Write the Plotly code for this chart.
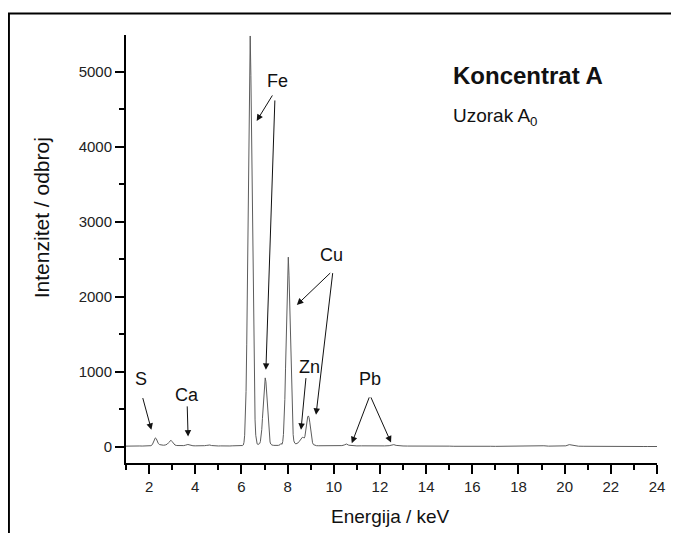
import plotly.graph_objects as go

# ---- data ----
energy_kev = [
    1.00, 1.10, 1.20, 1.30, 1.40, 1.50, 1.60, 1.70, 1.80, 1.90, 2.00, 2.08, 2.14, 2.19, 2.23, 2.27,
    2.31, 2.35, 2.40, 2.46, 2.54, 2.62, 2.70, 2.78, 2.84, 2.90, 2.95, 3.00, 3.05, 3.12, 3.20, 3.30,
    3.40, 3.50, 3.57, 3.63, 3.68, 3.73, 3.80, 3.90, 4.00, 4.10, 4.20, 4.30, 4.40, 4.50, 4.57, 4.63,
    4.70, 4.80, 4.90, 5.00, 5.10, 5.20, 5.30, 5.40, 5.50, 5.60, 5.70, 5.80, 5.90, 6.00, 6.05,
    6.08, 6.11, 6.14, 6.17, 6.20, 6.23, 6.26, 6.29, 6.32, 6.35, 6.38, 6.41, 6.44, 6.47, 6.50, 6.53,
    6.56, 6.59, 6.62, 6.65, 6.68, 6.72, 6.76,
    6.79, 6.82, 6.85, 6.88, 6.91, 6.94, 6.97, 7.00, 7.03, 7.06, 7.09, 7.12, 7.15, 7.18, 7.21, 7.24,
    7.27, 7.32, 7.40, 7.50, 7.60, 7.67, 7.71,
    7.76, 7.79, 7.82, 7.85, 7.88, 7.91, 7.94, 7.97, 8.00, 8.03, 8.06, 8.09, 8.12, 8.15, 8.18, 8.21,
    8.24, 8.27, 8.31, 8.36, 8.41, 8.46, 8.51, 8.56, 8.60, 8.64, 8.68, 8.72, 8.75, 8.78, 8.81, 8.84,
    8.87, 8.90, 8.93, 8.96, 8.99, 9.02, 9.05, 9.08, 9.12, 9.18, 9.25, 9.35,
    9.40, 9.60, 9.80, 10.00, 10.20, 10.35, 10.45, 10.55, 10.65, 10.80, 11.00, 11.20, 11.40, 11.60,
    11.80, 12.00, 12.20, 12.40, 12.50, 12.60, 12.70, 12.85, 13.00, 13.20, 13.40, 13.60, 13.80,
    14.00, 14.20, 14.40, 14.60, 14.80, 15.00, 15.20, 15.40, 15.60, 15.80, 16.00, 16.20, 16.40,
    16.60, 16.80, 17.00, 17.20, 17.40, 17.60, 17.80, 18.00, 18.20, 18.40, 18.60, 18.80, 18.95,
    19.10, 19.30, 19.50, 19.70, 19.90, 20.05, 20.20, 20.30, 20.45, 20.60, 20.80, 21.00, 21.20,
    21.40, 21.60, 21.80, 22.00, 22.20, 22.40, 22.60, 22.80, 23.00, 23.20, 23.40, 23.60, 23.80, 24.00,
]
intensity_counts = [
    10, 12, 9, 11, 13, 10, 12, 11, 14, 12, 13, 16, 30, 60, 95, 120,
    110, 75, 45, 30, 24, 22, 25, 35, 55, 80, 88, 70, 45, 25, 18, 16,
    15, 17, 22, 30, 32, 28, 20, 15, 14, 13, 15, 14, 16, 20, 26, 25,
    18, 14, 13, 12, 13, 11, 12, 13, 12, 14, 13, 14, 15, 16, 18,
    25, 60, 155, 360, 740, 1370, 2250, 3250, 4200, 4950, 5480, 4950, 4200, 3250, 2250, 1370,
    740, 360, 155, 70, 40, 32, 40,
    45, 70, 125, 230, 380, 560, 740, 870, 920, 870, 740, 560, 380, 230, 125, 65,
    38, 25, 20, 18, 20, 28, 45,
    35, 72, 165, 340, 630, 1040, 1500, 1940, 2290, 2530, 2290, 1940, 1500, 1040, 630, 340,
    165, 80, 50, 40, 45, 55, 75, 100, 120, 128, 125, 118, 140, 210, 290, 360,
    400, 413, 390, 330, 250, 170, 100, 55, 30, 20, 16, 15,
    15, 14, 16, 14, 15, 17, 25, 38, 22, 14, 13, 14, 12, 13,
    14, 12, 13, 16, 22, 30, 20, 13, 12, 11, 12, 10, 11,
    10, 11, 9, 10, 9, 10, 8, 9, 8, 9, 8, 9, 8,
    7, 8, 7, 8, 7, 8, 7, 8, 9, 8, 10, 14, 20,
    15, 10, 9, 8, 9, 14, 30, 24, 12, 9, 8, 7, 8,
    7, 6, 7, 6, 7, 6, 5, 6, 5, 6, 5, 5, 6, 5,
]

x_tick_vals = [2, 4, 6, 8, 10, 12, 14, 16, 18, 20, 22, 24]
y_tick_vals = [0, 1000, 2000, 3000, 4000, 5000]

# element labels
element_labels = ["S", "Ca", "Fe", "Cu", "Zn", "Pb"]
label_x = [1.64, 3.65, 7.55, 9.91, 8.94, 11.57]
label_y = [907, 693, 4884, 2560, 1071, 907]

# arrows: tail -> head
arrow_tail_x = [1.71, 3.65, 7.38, 7.45, 9.91, 9.96, 8.80, 11.56, 11.58]
arrow_tail_y = [671, 560, 4707, 4640, 2337, 2337, 937, 680, 680]
arrow_head_x = [2.10, 3.69, 6.66, 7.06, 8.40, 9.23, 8.58, 10.78, 12.48]
arrow_head_y = [227, 137, 4347, 1027, 1893, 427, 227, 49, 57]

FONT = "Liberation Sans, Arial, sans-serif"

fig = go.Figure()
fig.add_trace(go.Scatter(
    x=energy_kev, y=intensity_counts, mode="lines",
    line=dict(color="#5c5c5c", width=1), hoverinfo="skip", showlegend=False,
))

annotations = []
for t, xx, yy in zip(element_labels, label_x, label_y):
    annotations.append(dict(x=xx, y=yy, xref="x", yref="y", text=t, showarrow=False,
                            xanchor="center", yanchor="middle",
                            font=dict(family=FONT, size=18, color="#111")))
for tx, ty, hx, hy in zip(arrow_tail_x, arrow_tail_y, arrow_head_x, arrow_head_y):
    annotations.append(dict(x=hx, y=hy, ax=tx, ay=ty, xref="x", yref="y", axref="x", ayref="y",
                            text="", showarrow=True, arrowhead=2, arrowsize=1.3, arrowwidth=1,
                            arrowcolor="#111", standoff=0, startstandoff=0))

annotations.append(dict(x=15.09, y=4947, xref="x", yref="y", xanchor="left", yanchor="middle",
                        text="<b>Koncentrat A</b>", showarrow=False,
                        font=dict(family=FONT, size=24, color="#111")))
annotations.append(dict(x=15.09, y=4400, xref="x", yref="y", xanchor="left", yanchor="middle",
                        text="Uzorak A<sub>0</sub>", showarrow=False,
                        font=dict(family=FONT, size=19, color="#111")))
annotations.append(dict(x=-0.160, y=0.572, xref="paper", yref="paper", textangle=-90,
                        xanchor="center", yanchor="middle",
                        text="Intenzitet / odbroj", showarrow=False,
                        font=dict(family=FONT, size=21, color="#111")))
annotations.append(dict(x=0.4977, y=-0.124, xref="paper", yref="paper",
                        xanchor="center", yanchor="middle",
                        text="Energija / keV", showarrow=False,
                        font=dict(family=FONT, size=19, color="#111")))

fig.update_layout(
    width=671, height=525,
    margin=dict(l=118, r=22, t=27, b=70),
    paper_bgcolor="white", plot_bgcolor="white",
    font=dict(family=FONT, size=15, color="#222"),
    annotations=annotations,
    shapes=[dict(type="rect", xref="paper", yref="paper",
                 x0=-0.2205, x1=1.032, y0=-0.25, y1=1.0502,
                 line=dict(color="black", width=2), fillcolor="rgba(0,0,0,0)", layer="above")],
)
fig.update_xaxes(
    range=[1, 24], tickvals=x_tick_vals, ticks="outside", ticklen=9, tickwidth=1.5,
    tickcolor="black", showline=True, linecolor="black", linewidth=2, showgrid=False,
    zeroline=False, tickfont=dict(size=15, family=FONT, color="#222"),
    minor=dict(dtick=1, tick0=0, ticks="outside", ticklen=5, tickwidth=1.5, tickcolor="black", showgrid=False),
)
fig.update_yaxes(
    range=[-215, 5493], tickvals=y_tick_vals, ticks="outside", ticklen=9, tickwidth=1.5,
    tickcolor="black", showline=True, linecolor="black", linewidth=2, showgrid=False,
    zeroline=False, tickfont=dict(size=15, family=FONT, color="#222"),
    minor=dict(dtick=500, tick0=0, ticks="outside", ticklen=5, tickwidth=1.5, tickcolor="black", showgrid=False),
)

fig.write_html("out.html")
